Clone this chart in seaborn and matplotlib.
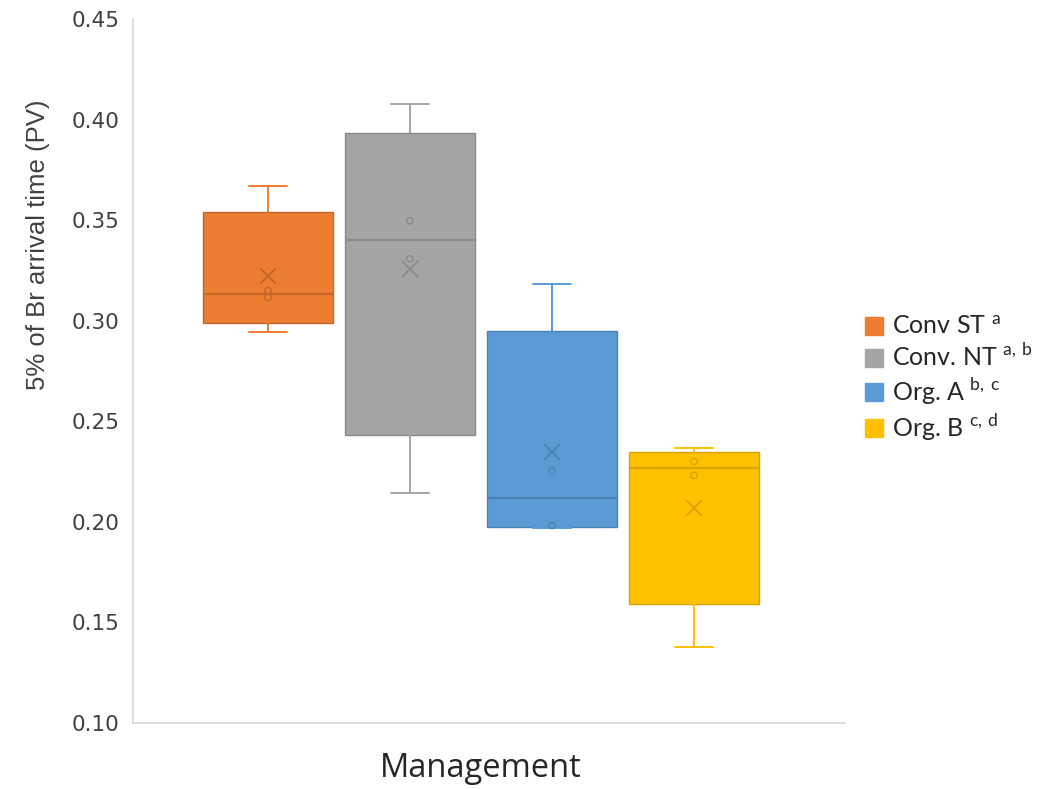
import numpy as np
import pandas as pd
import matplotlib
matplotlib.use("Agg")
import matplotlib.pyplot as plt
from matplotlib.patches import Patch
from matplotlib.ticker import MultipleLocator, FormatStrFormatter
import seaborn as sns

# Pore volumes (PV) at which 5 % of the applied bromide had arrived, per plot
category = "Management"
groups = ["Conv ST", "Conv. NT", "Org. A", "Org. B"]
letters = ["a", "a, b", "b, c", "c, d"]
conv_st = [0.2946, 0.3115, 0.3150, 0.3670]
conv_nt = [0.2141, 0.3308, 0.3497, 0.4078]
org_a = [0.1971, 0.1982, 0.2252, 0.3183]
org_b = [0.1380, 0.2231, 0.2300, 0.2365]
y_ticks_step = 0.05

fill_colors = ["#ED7D31", "#A5A5A5", "#5B9BD5", "#FFC000"]
dark_colors = ["#C4662A", "#8A8A8A", "#4A82B4", "#D9A400"]

series = dict(zip(groups, [conv_st, conv_nt, org_a, org_b]))

# raw observations
raw = pd.DataFrame(
    [(category, g, v) for g, vals in series.items() for v in vals],
    columns=["axis", "group", "value"],
)

# five-number summaries with exclusive quartiles ((n+1)p rule)
summary = pd.DataFrame(
    [(category, g, q)
     for g, vals in series.items()
     for q in np.percentile(vals, [0, 25, 50, 75, 100], method="weibull")],
    columns=["axis", "group", "value"],
)

# points lying strictly inside the whiskers
inner = raw[raw.groupby("group")["value"].transform(
    lambda s: (s > s.min()) & (s < s.max()))]

sns.set_style("white")
fig = plt.figure(figsize=(10.48, 7.89), dpi=100)
ax = fig.add_axes([133 / 1048, 1 - 723 / 789, 712 / 1048, 704 / 789])

sns.boxplot(
    data=summary, x="axis", y="value", hue="group", hue_order=groups,
    palette=fill_colors, saturation=1, width=0.8, gap=0.085,
    whis=(0, 100), linewidth=1, capwidths=0.054, legend=False, ax=ax,
)
for cont, fc, dc in zip(ax.containers, fill_colors, dark_colors):
    for b in cont.boxes:
        b.set_edgecolor(dc)
        b.set_linewidth(1.0)
    for m in cont.medians:
        m.set_color(dc)
        m.set_linewidth(1.6)
    for w in cont.whiskers:
        w.set_color(fc)
        w.set_linewidth(1.4)
    for c in cont.caps:
        c.set_color(fc)
        c.set_linewidth(1.4)

sns.stripplot(
    data=inner, x="axis", y="value", hue="group", hue_order=groups,
    palette=fill_colors, dodge=True, jitter=False, size=4.6, linewidth=1,
    legend=False, ax=ax, zorder=4,
)
for coll, dc in zip(ax.collections, dark_colors):
    coll.set_edgecolor(dc)

sns.pointplot(
    data=raw, x="axis", y="value", hue="group", hue_order=groups,
    palette=dark_colors, estimator="mean", errorbar=None, dodge=0.6,
    marker="x", linestyle="none", markersize=11, markeredgewidth=1.3,
    legend=False, ax=ax,
)

ax.set_ylim(0.10, 0.45)
ax.set_xlim(-0.490, 0.5127)
ax.yaxis.set_major_locator(MultipleLocator(y_ticks_step))
ax.yaxis.set_major_formatter(FormatStrFormatter("%.2f"))
ax.tick_params(axis="y", length=0, pad=9.5, labelsize=15.5, labelcolor="#404040")
ax.tick_params(axis="x", length=0, pad=21, labelsize=23.5,
               labelcolor="#262626", labelfontfamily="Open Sans")
ax.set_xlabel("")
ax.set_ylabel("5% of Br arrival time (PV)", fontsize=18.5,
              family="Liberation Sans", color="#404040")
ax.yaxis.set_label_coords(-0.116, 0.68)

for side in ("top", "right"):
    ax.spines[side].set_visible(False)
for side in ("left", "bottom"):
    ax.spines[side].set_color("#D9D9D9")
    ax.spines[side].set_linewidth(1.3)
ax.grid(False)

handles = [Patch(facecolor=c, edgecolor=c) for c in fill_colors]
labels = [f"{g} $^{{\\mathregular{{{l.replace(' ', chr(92) + ',')}}}}}$"
          for g, l in zip(groups, letters)]
fig.legend(
    handles, labels, loc="center left",
    bbox_to_anchor=(865 / 1048, 1 - 379 / 789),
    frameon=False, prop={"family": "Lato", "size": 18},
    labelcolor="#262626", handlelength=0.72, handleheight=0.72,
    handletextpad=0.36, labelspacing=0.2, borderpad=0, borderaxespad=0,
)

fig.savefig("out.png", dpi=100)
